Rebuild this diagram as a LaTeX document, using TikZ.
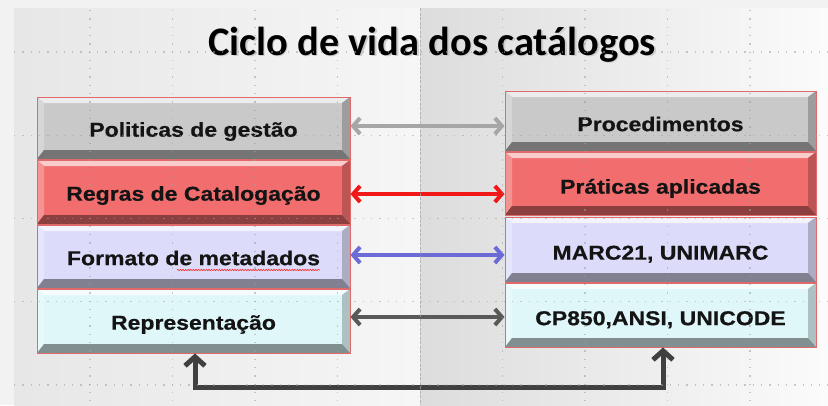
\documentclass[tikz,border=0pt]{standalone}
\usepackage{fontspec}
\newfontfamily\boxfont{Liberation Sans}[FakeStretch=1.15, BoldFeatures={FakeBold=0.6}]
\newfontfamily\titlefont{Carlito}
\usetikzlibrary{arrows.meta,calc,decorations.pathmorphing}
\definecolor{outerbg}{HTML}{F2F2F2}
\definecolor{facegray}{HTML}{C9C9C9}
\definecolor{facered}{HTML}{F26D6D}
\definecolor{facelav}{HTML}{DCDCFA}
\definecolor{facecyan}{HTML}{DFF7F9}
\definecolor{boxline}{HTML}{E06A6A}
\definecolor{arrgray}{HTML}{A6A6A6}
\definecolor{arrred}{HTML}{F01818}
\definecolor{arrblue}{HTML}{6B6BD6}
\definecolor{arrdark}{HTML}{595959}
\definecolor{conncol}{HTML}{404040}
\begin{document}
\begin{tikzpicture}[x=1pt,y=-1pt,
  bevelbox/.style={shape=rectangle, draw=boxline, line width=0.9pt, inner sep=0pt,
    fill=#1, text=black!92, text depth=0pt,
    font=\boxfont\bfseries\fontsize{20}{22}\selectfont,
    path picture={
      \fill[#1!35!white] (path picture bounding box.north west) -- (path picture bounding box.north east)
        -- ([xshift=-8pt,yshift=-6pt]path picture bounding box.north east)
        -- ([xshift=7pt,yshift=-6pt]path picture bounding box.north west) -- cycle;
      \fill[#1!75!white] (path picture bounding box.north west)
        -- ([xshift=7pt,yshift=-6pt]path picture bounding box.north west)
        -- ([xshift=7pt,yshift=9pt]path picture bounding box.south west)
        -- (path picture bounding box.south west) -- cycle;
      \fill[#1!78!black] (path picture bounding box.north east)
        -- ([xshift=-8pt,yshift=-6pt]path picture bounding box.north east)
        -- ([xshift=-8pt,yshift=9pt]path picture bounding box.south east)
        -- (path picture bounding box.south east) -- cycle;
      \fill[#1!58!black] (path picture bounding box.south west) -- (path picture bounding box.south east)
        -- ([xshift=-8pt,yshift=9pt]path picture bounding box.south east)
        -- ([xshift=7pt,yshift=9pt]path picture bounding box.south west) -- cycle;
    }},
  leftbox/.style={bevelbox=#1, minimum width=313pt, text height=17.3pt},
  rightbox/.style={bevelbox=#1, minimum width=311pt, text height=20.3pt},
  arr/.style={line width=4pt, {Straight Barb[length=7pt,width=16pt]}-{Straight Barb[length=7pt,width=16pt]}},
  conn/.style={line width=5pt, color=conncol, {Straight Barb[length=9pt,width=20pt]}-{Straight Barb[length=9pt,width=20pt]}},
  griddot/.style={gray!75, line width=1.3pt, dash pattern=on 1.3pt off 7pt, opacity=0.55},
  titlestyle/.style={font=\titlefont\bfseries\fontsize{40.5}{42}\selectfont, anchor=base, inner sep=0pt}
]
\useasboundingbox (0,0) rectangle (828,405);
% background
\fill[outerbg] (0,0) rectangle (828,405);
\shade[left color=gray!19, right color=gray!7] (14,8) rectangle (420,405);
\shade[left color=gray!27, middle color=gray!9, right color=gray!3] (420,8) rectangle (828,405);

% title
\node[titlestyle, text=gray!40] (Tshadow) at (433.5,56.5) {Ciclo de vida dos catálogos};
\node[titlestyle, text=black] (T) at (432,55) {Ciclo de vida dos catálogos};

% left column
\node[leftbox=facegray, minimum height=62pt] (L1) at (193.5,128) {Politicas de gestão};
\node[leftbox=facered,  minimum height=64pt] (L2) at (193.5,192) {Regras de Catalogação};
\node[leftbox=facelav,  minimum height=63pt] (L3) at (193.5,256.5) {Formato de metadados};
\node[leftbox=facecyan, minimum height=64pt] (L4) at (193.5,321) {Representação};

% right column
\node[rightbox=facegray, minimum height=60pt] (R1) at (660.5,121) {Procedimentos};
\node[rightbox=facered,  minimum height=63pt] (R2) at (660.5,183.5) {Práticas aplicadas};
\node[rightbox=facelav,  minimum height=65pt] (R3) at (660.5,249.5) {MARC21, UNIMARC};
\node[rightbox=facecyan, minimum height=64pt] (R4) at (660.5,315) {CP850,ANSI, UNICODE};

% spell-check underline
\draw[red!85, line width=0.6pt, decorate, decoration={snake, amplitude=0.7pt, segment length=2.6pt}]
  ($(L3.center)+(-16.5,13.5)$) -- ($(L3.center)+(126.5,13.5)$);

% horizontal arrows
\draw[arr, arrgray] ([yshift=2pt]L1.east) -- ([yshift=2pt]L1.east -| R1.west);
\draw[arr, arrred]  ([yshift=-2pt]L2.east) -- ([yshift=-2pt]L2.east -| R2.west);
\draw[arr, arrblue] ([yshift=1.5pt]L3.east) -- ([yshift=1.5pt]L3.east -| R3.west);
\draw[arr, arrdark] ([yshift=4pt]L4.east) -- ([yshift=4pt]L4.east -| R4.west);

% bottom connector
\coordinate (c1) at (195,387);
\coordinate (c2) at (663,387);
\draw[conn] (L4.south -| c1) -- (c1) -- (c2) -- (R4.south -| c2);

% overlay grid and seam
\foreach \gx in {90,172.5,255,337.5,502.5,585,667.5,750}
  \draw[griddot] (\gx,10) -- (\gx,405);
\foreach \gy in {52,135.25,218.5,301.75,385}
  \draw[griddot] (14,\gy) -- (828,\gy);
\draw[gray!70, line width=1.3pt, dash pattern=on 3pt off 1.5pt, opacity=0.7] (420.5,8) -- (420.5,405);
\end{tikzpicture}
\end{document}
